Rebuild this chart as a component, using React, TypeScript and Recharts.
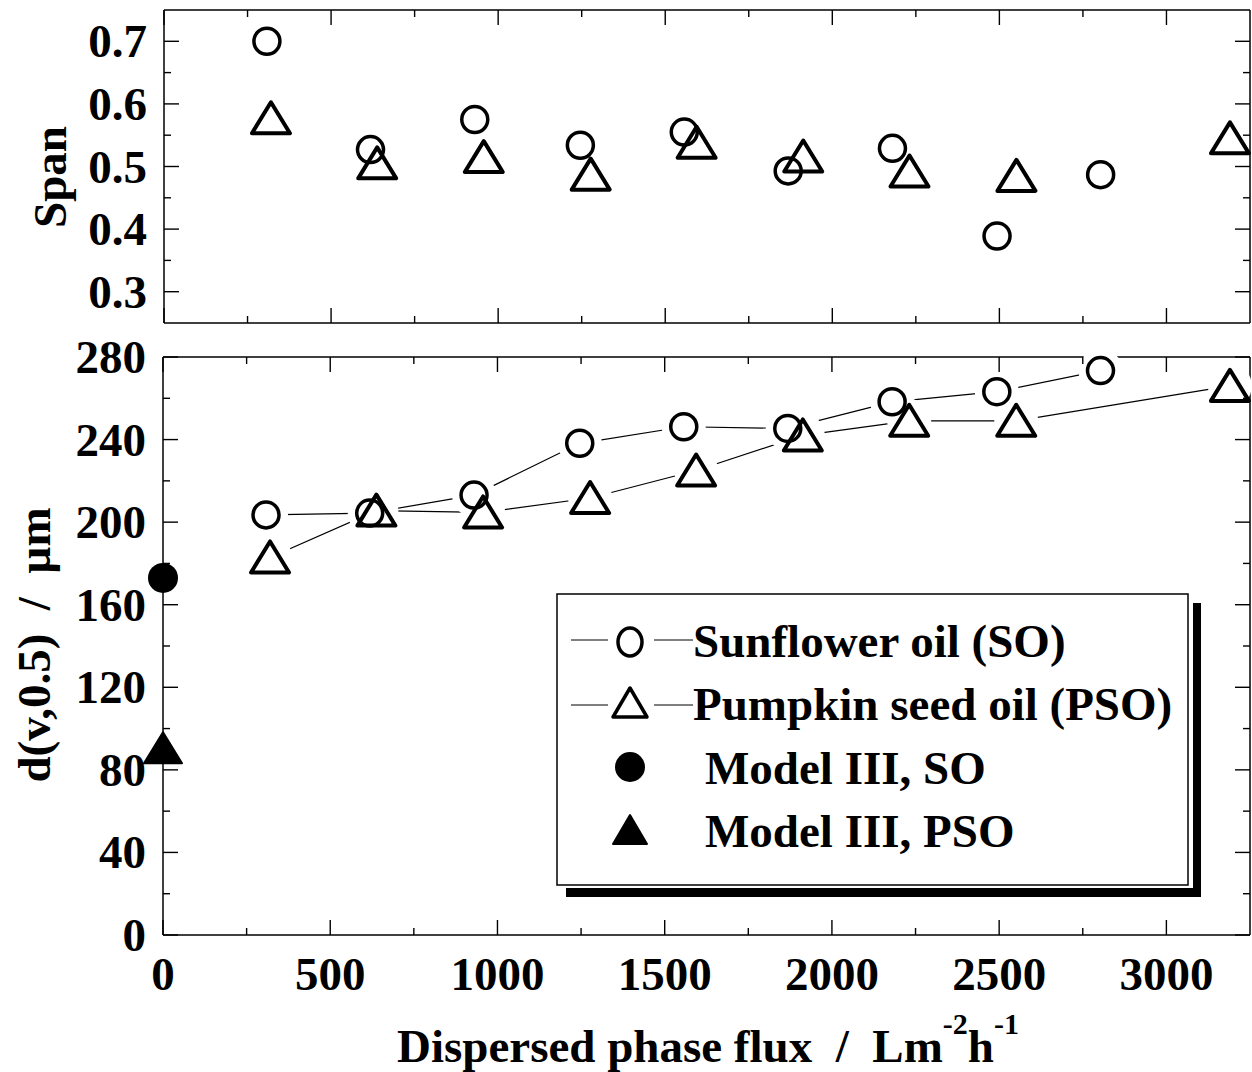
import React from "react";
import { ScatterChart, Scatter, XAxis, YAxis, Legend } from "recharts";

const FONT = "'Liberation Serif', 'Times New Roman', serif";

// flux values (L m-2 h-1), one per measured run
const soFlux = [308, 618, 930, 1246, 1557, 1868, 2180, 2493, 2803];
const psoFlux = [320, 638, 957, 1277, 1594, 1913, 2231, 2551, 3190];

const soSpan = [0.7, 0.527, 0.575, 0.534, 0.555, 0.493, 0.529, 0.389, 0.487];
const psoSpan = [0.577, 0.505, 0.515, 0.487, 0.538, 0.516, 0.492, 0.485, 0.545];

const soD50 = [203.5, 204.4, 213.1, 238.2, 246.2, 245.4, 258.3, 263.2, 273.4];
const psoD50 = [182.9, 205.6, 204.7, 211.7, 225, 242, 249.1, 249.1, 266];

const modelFlux = [0];
const modelSoD50 = [173];
const modelPsoD50 = [90.5];

const fluxMajor = [0, 500, 1000, 1500, 2000, 2500, 3000];
const fluxMinor = [250, 750, 1250, 1750, 2250, 2750];
const spanMajor = [0.3, 0.4, 0.5, 0.6, 0.7];
const spanMinor = [0.35, 0.45, 0.55, 0.65];
const d50Major = [0, 40, 80, 120, 160, 200, 240, 280];
const d50Minor = [20, 60, 100, 140, 180, 220, 260];

const toPts = (xs: number[], ys: number[]) => xs.map((x, i) => ({ x, y: ys[i] }));

const soSpanPts = toPts(soFlux, soSpan);
const psoSpanPts = toPts(psoFlux, psoSpan);
const soD50Pts = toPts(soFlux, soD50);
const psoD50Pts = toPts(psoFlux, psoD50);
const modelSoPts = toPts(modelFlux, modelSoD50);
const modelPsoPts = toPts(modelFlux, modelPsoD50);

// markers
const OpenCircle = (p: any) => (
  <circle cx={p.cx} cy={p.cy} r={13} fill="none" stroke="#000" strokeWidth={3.5} />
);
const triPath = (cx: number, cy: number, h = 19, top = 16, bot = 15) =>
  `M${cx},${cy - top} L${cx + h},${cy + bot} L${cx - h},${cy + bot} Z`;
const OpenTriangle = (p: any) => (
  <path d={triPath(p.cx, p.cy)} fill="none" stroke="#000" strokeWidth={4} strokeLinejoin="round" />
);
const FilledCircle = (p: any) => <circle cx={p.cx} cy={p.cy} r={15} fill="#000" />;
const FilledTriangle = (p: any) => (
  <path d={triPath(p.cx, p.cy)} fill="#000" stroke="#000" strokeWidth={2} strokeLinejoin="round" />
);
const Halo = (p: any) => <circle cx={p.cx} cy={p.cy} r={22} fill="#fff" />;
const Nothing = () => <g />;

// ticks drawn inward from the frame, long for major, short for minor
function FrameTick(props: any) {
  const { x, y, payload, side, major, showLabel } = props;
  const v = payload?.value;
  const isMajor = major.some((m: number) => Math.abs(m - v) < 1e-9);
  const len = isMajor ? 15 : 7;
  let l = [x, y, x, y];
  if (side === "left") l = [x, y, x + len, y];
  if (side === "right") l = [x, y, x - len, y];
  if (side === "bottom") l = [x, y, x, y - len];
  if (side === "top") l = [x, y, x, y + len];
  return (
    <g>
      <line x1={l[0]} y1={l[1]} x2={l[2]} y2={l[3]} stroke="#000" strokeWidth={1.4} />
      {showLabel && isMajor && side === "left" && (
        <text x={x - 17} y={y + 16} textAnchor="end" fontFamily={FONT} fontWeight="bold" fontSize={47} fill="#000">
          {String(v)}
        </text>
      )}
      {showLabel && isMajor && side === "bottom" && (
        <text x={x} y={y + 55} textAnchor="middle" fontFamily={FONT} fontWeight="bold" fontSize={47} fill="#000">
          {String(v)}
        </text>
      )}
    </g>
  );
}

const SpanTitle = () => (
  <text x={66} y={177} transform="rotate(-90, 66, 177)" textAnchor="middle" fontFamily={FONT} fontWeight="bold" fontSize={47} fill="#000">
    Span
  </text>
);

const D50Title = () => (
  <text x={50} y={315} transform="rotate(-90, 50, 315)" textAnchor="middle" fontFamily={FONT} fontWeight="bold" fontSize={47} fill="#000">
    {"d(v,0.5)\u00a0\u00a0/\u00a0\u00a0\u00b5m"}
  </text>
);

const FluxTitle = () => (
  <text x={397} y={732} fontFamily={FONT} fontWeight="bold" fontSize={47} fill="#000">
    {"Dispersed phase flux\u00a0\u00a0/\u00a0\u00a0Lm"}
    <tspan dy={-28} fontSize={30}>-2</tspan>
    <tspan dy={28}>h</tspan>
    <tspan dy={-28} fontSize={30}>-1</tspan>
  </text>
);

function LegendBox() {
  const txt = { fontFamily: FONT, fontWeight: "bold" as const, fontSize: 47, fill: "#000" };
  return (
    <svg width={660} height={310} style={{ display: "block" }}>
      <rect x={1} y={1} width={631} height={291} fill="#fff" stroke="#000" strokeWidth={1.5} />
      <rect x={637} y={10} width={8} height={294} fill="#000" />
      <rect x={10} y={295} width={635} height={9} fill="#000" />
      <line x1={15} y1={47} x2={52} y2={47} stroke="#000" strokeWidth={1} />
      <line x1={98} y1={47} x2={137} y2={47} stroke="#000" strokeWidth={1} />
      <ellipse cx={74} cy={49} rx={12} ry={14} fill="none" stroke="#000" strokeWidth={3.5} />
      <text x={137} y={64} {...txt}>Sunflower oil (SO)</text>
      <line x1={15} y1={112} x2={52} y2={112} stroke="#000" strokeWidth={1} />
      <line x1={98} y1={112} x2={137} y2={112} stroke="#000" strokeWidth={1} />
      <path d={triPath(74, 111, 17, 16, 13)} fill="none" stroke="#000" strokeWidth={3.5} strokeLinejoin="round" />
      <text x={137} y={127} {...txt}>Pumpkin seed oil (PSO)</text>
      <ellipse cx={74} cy={174} rx={15} ry={15} fill="#000" />
      <text x={149} y={191} {...txt}>Model III, SO</text>
      <path d={triPath(74, 238, 17, 16, 13)} fill="#000" stroke="#000" strokeWidth={2} strokeLinejoin="round" />
      <text x={149} y={254} {...txt}>Model III, PSO</text>
    </svg>
  );
}

const W = 1252;

export default function App() {
  const axisLine = { stroke: "#000", strokeWidth: 1.5 };
  const fluxTicks = [...fluxMajor, ...fluxMinor];
  const spanTicks = [...spanMajor, ...spanMinor];
  const d50Ticks = [...d50Major, ...d50Minor];

  return (
    <div style={{ position: "absolute", left: 0, top: 0, width: W, height: 1072, background: "#fff" }}>
      {/* upper panel: span */}
      <div style={{ position: "absolute", left: 0, top: 0 }}>
        <ScatterChart width={W} height={330} margin={{ top: 0, right: 0, bottom: 0, left: 0 }}>
          <XAxis xAxisId="b" dataKey="x" type="number" domain={[0, 3250]} ticks={fluxTicks} interval={0}
            orientation="bottom" height={7} tickSize={0} tickMargin={0} tickLine={false} axisLine={axisLine}
            tick={<FrameTick side="bottom" major={fluxMajor} showLabel={false} />} />
          <XAxis xAxisId="t" dataKey="x" type="number" domain={[0, 3250]} allowDataOverflow ticks={fluxTicks} interval={0}
            orientation="top" height={10} tickSize={0} tickMargin={0} tickLine={false} axisLine={axisLine}
            tick={<FrameTick side="top" major={fluxMajor} showLabel={false} />} />
          <YAxis yAxisId="l" dataKey="y" type="number" domain={[0.25, 0.75]} ticks={spanTicks} interval={0}
            orientation="left" width={164} tickSize={0} tickMargin={0} tickLine={false} axisLine={axisLine}
            tick={<FrameTick side="left" major={spanMajor} showLabel />} label={<SpanTitle />} />
          <YAxis yAxisId="r" dataKey="y" type="number" domain={[0.25, 0.75]} allowDataOverflow ticks={spanTicks} interval={0}
            orientation="right" width={2} tickSize={0} tickMargin={0} tickLine={false} axisLine={axisLine}
            tick={<FrameTick side="right" major={spanMajor} showLabel={false} />} />
          <Scatter xAxisId="b" yAxisId="l" data={soSpanPts} shape={OpenCircle} isAnimationActive={false} />
          <Scatter xAxisId="b" yAxisId="l" data={psoSpanPts} shape={OpenTriangle} isAnimationActive={false} />
        </ScatterChart>
      </div>

      {/* lower panel: d(v,0.5) */}
      <div style={{ position: "absolute", left: 0, top: 330 }}>
        <ScatterChart width={W} height={742} margin={{ top: 0, right: 0, bottom: 0, left: 0 }}>
          <XAxis xAxisId="b" dataKey="x" type="number" domain={[0, 3250]} ticks={fluxTicks} interval={0}
            orientation="bottom" height={137} tickSize={0} tickMargin={0} tickLine={false} axisLine={axisLine}
            tick={<FrameTick side="bottom" major={fluxMajor} showLabel />} label={<FluxTitle />} />
          <XAxis xAxisId="t" dataKey="x" type="number" domain={[0, 3250]} allowDataOverflow ticks={fluxTicks} interval={0}
            orientation="top" height={27} tickSize={0} tickMargin={0} tickLine={false} axisLine={axisLine}
            tick={<FrameTick side="top" major={fluxMajor} showLabel={false} />} />
          <YAxis yAxisId="l" dataKey="y" type="number" domain={[0, 280]} ticks={d50Ticks} interval={0}
            orientation="left" width={163} tickSize={0} tickMargin={0} tickLine={false} axisLine={axisLine}
            tick={<FrameTick side="left" major={d50Major} showLabel />} label={<D50Title />} />
          <YAxis yAxisId="r" dataKey="y" type="number" domain={[0, 280]} allowDataOverflow ticks={d50Ticks} interval={0}
            orientation="right" width={2} tickSize={0} tickMargin={0} tickLine={false} axisLine={axisLine}
            tick={<FrameTick side="right" major={d50Major} showLabel={false} />} />
          {/* connecting lines first, then white halos so lines stop short of markers, then markers */}
          <Scatter xAxisId="b" yAxisId="l" data={soD50Pts} shape={Nothing} line={{ stroke: "#000", strokeWidth: 1.2 }} isAnimationActive={false} />
          <Scatter xAxisId="b" yAxisId="l" data={psoD50Pts} shape={Nothing} line={{ stroke: "#000", strokeWidth: 1.2 }} isAnimationActive={false} />
          <Scatter xAxisId="b" yAxisId="l" data={soD50Pts} shape={Halo} isAnimationActive={false} />
          <Scatter xAxisId="b" yAxisId="l" data={psoD50Pts} shape={Halo} isAnimationActive={false} />
          <Scatter xAxisId="b" yAxisId="l" data={soD50Pts} shape={OpenCircle} isAnimationActive={false} />
          <Scatter xAxisId="b" yAxisId="l" data={psoD50Pts} shape={OpenTriangle} isAnimationActive={false} />
          <Scatter xAxisId="b" yAxisId="l" data={modelSoPts} shape={FilledCircle} isAnimationActive={false} />
          <Scatter xAxisId="b" yAxisId="l" data={modelPsoPts} shape={FilledTriangle} isAnimationActive={false} />
          <Legend layout="vertical" align="center" verticalAlign="middle"
            wrapperStyle={{ left: 556, top: 263, width: 660, height: 310 }}
            content={() => <LegendBox />} />
        </ScatterChart>
      </div>
    </div>
  );
}
